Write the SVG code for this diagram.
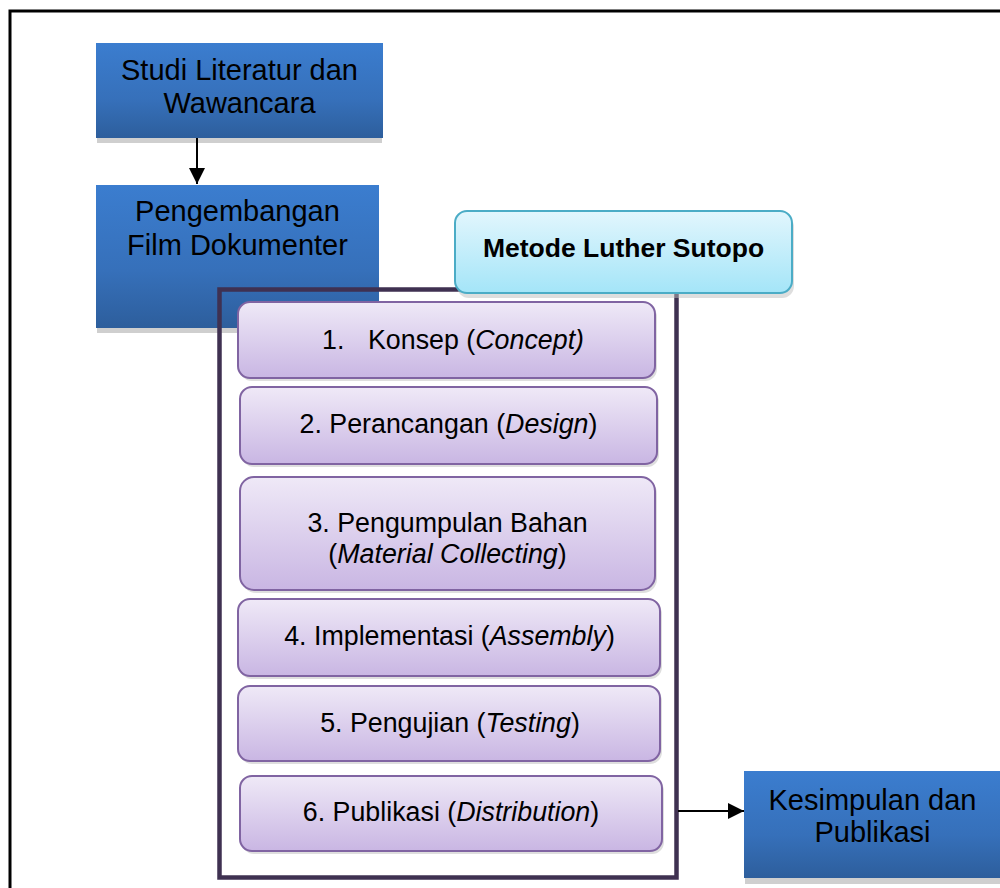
<svg xmlns="http://www.w3.org/2000/svg" width="1000" height="888" viewBox="0 0 1000 888">
<defs>
<linearGradient id="gBlue" x1="0" y1="0" x2="0" y2="1">
<stop offset="0" stop-color="#3b7dcf"/>
<stop offset="0.6" stop-color="#3670ba"/>
<stop offset="1" stop-color="#2d5e9c"/>
</linearGradient>
<linearGradient id="gPurple" x1="0" y1="0" x2="0" y2="1">
<stop offset="0" stop-color="#efe9f7"/>
<stop offset="1" stop-color="#c9b6e3"/>
</linearGradient>
<linearGradient id="gCyan" x1="0" y1="0" x2="0" y2="1">
<stop offset="0" stop-color="#e2f6fd"/>
<stop offset="1" stop-color="#a4e5f8"/>
</linearGradient>
<marker id="arrow" viewBox="0 0 10 10" refX="10" refY="5" markerWidth="8" markerHeight="8" orient="auto" markerUnits="strokeWidth">
<path d="M0,0 L10,5 L0,10 z" fill="#000"/>
</marker>
<style>
.blue{fill:url(#gBlue);}
.shadow{fill:#cfcfcf;}
.pshadow{fill:#bdbdbd;opacity:0.5;}
.purple{fill:url(#gPurple);stroke:#8064a2;stroke-width:2;}
.cyan{fill:url(#gCyan);stroke:#4bacc6;stroke-width:2;}
.t{font-family:"Liberation Sans",Arial,sans-serif;fill:#000;text-anchor:middle;}
.bt{font-size:29px;}
.pt{font-size:26.8px;}
.conn{stroke:#000;stroke-width:2;fill:none;}
</style>
</defs>
<rect x="10" y="11" width="1000" height="900" fill="none" stroke="#000" stroke-width="3"/>

<g id="node-studi">
<rect class="shadow" x="97" y="138" width="285" height="5"/>
<rect class="blue" x="96" y="43" width="287" height="95"/>
<text class="t bt" x="239.5" y="80">Studi Literatur dan</text>
<text class="t bt" x="239.5" y="113">Wawancara</text>
</g>

<g id="node-pengembangan">
<rect class="shadow" x="97" y="328" width="282" height="5"/>
<rect class="blue" x="96" y="185" width="283" height="143"/>
<text class="t bt" x="237.5" y="221">Pengembangan</text>
<text class="t bt" x="237.5" y="255">Film Dokumenter</text>
</g>

<g id="node-kesimpulan">
<rect class="shadow" x="745" y="878" width="260" height="6"/>
<rect class="blue" x="744" y="771" width="260" height="107"/>
<text class="t bt" x="872.5" y="810">Kesimpulan dan</text>
<text class="t bt" x="872.5" y="842">Publikasi</text>
</g>

<g id="frame-luther">
<rect x="219.5" y="289.5" width="457" height="588" fill="none" stroke="#3f3151" stroke-width="4.5"/>
</g>

<g id="node-metode">
<rect class="pshadow" x="457" y="215" width="337" height="83" rx="12"/>
<rect class="cyan" x="455" y="211" width="337" height="82" rx="12"/>
<text class="t" x="623.5" y="257" font-size="26.5" font-weight="bold">Metode Luther Sutopo</text>
</g>

<g id="node-konsep">
<rect class="pshadow" x="240" y="305" width="417" height="76" rx="12"/>
<rect class="purple" x="238" y="302" width="417" height="76" rx="12"/>
<text class="t pt" x="322" y="349" style="text-anchor:start">1.<tspan x="368">Konsep (</tspan><tspan font-style="italic">Concept)</tspan></text>
</g>

<g id="node-perancangan">
<rect class="pshadow" x="242" y="390" width="417" height="77" rx="12"/>
<rect class="purple" x="240" y="387" width="417" height="77" rx="12"/>
<text class="t pt" x="448.5" y="433">2. Perancangan (<tspan font-style="italic">Design</tspan>)</text>
</g>

<g id="node-pengumpulan">
<rect class="pshadow" x="242" y="480" width="415" height="113" rx="14"/>
<rect class="purple" x="240" y="477" width="415" height="113" rx="14"/>
<text class="t pt" x="447.5" y="532">3. Pengumpulan Bahan</text>
<text class="t pt" x="447.5" y="563">(<tspan font-style="italic">Material Collecting</tspan>)</text>
</g>

<g id="node-implementasi">
<rect class="pshadow" x="240" y="602" width="422" height="77" rx="12"/>
<rect class="purple" x="238" y="599" width="422" height="77" rx="12"/>
<text class="t pt" x="449.5" y="645">4. Implementasi (<tspan font-style="italic">Assembly</tspan>)</text>
</g>

<g id="node-pengujian">
<rect class="pshadow" x="240" y="689" width="422" height="75" rx="12"/>
<rect class="purple" x="238" y="686" width="422" height="75" rx="12"/>
<text class="t pt" x="450" y="732">5. Pengujian (<tspan font-style="italic">Testing</tspan>)</text>
</g>

<g id="node-publikasi">
<rect class="pshadow" x="242" y="779" width="422" height="75" rx="12"/>
<rect class="purple" x="240" y="776" width="422" height="75" rx="12"/>
<text class="t pt" x="451" y="821">6. Publikasi (<tspan font-style="italic">Distribution</tspan>)</text>
</g>

<g id="connectors">
<line class="conn" x1="197" y1="138" x2="197" y2="184" marker-end="url(#arrow)"/>
<line class="conn" x1="678" y1="811" x2="744" y2="811" marker-end="url(#arrow)"/>
</g>
</svg>
